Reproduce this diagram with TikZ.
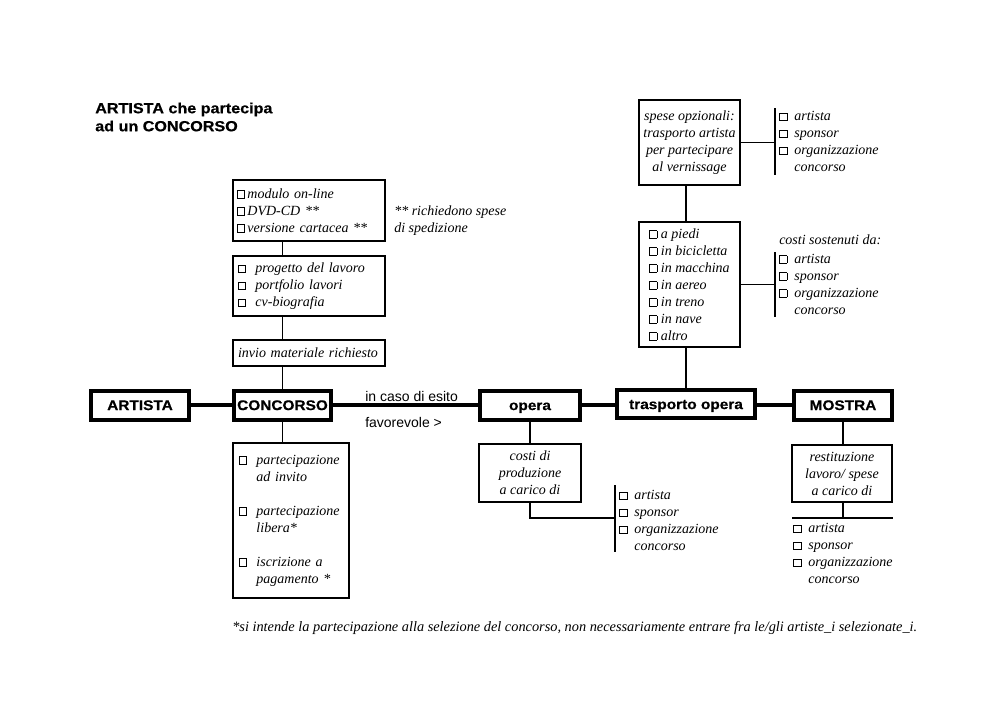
\documentclass[tikz,border=0pt]{standalone}
\usepackage{fontspec}
\newfontfamily\blk{Liberation Sans}[FakeStretch=1.1,FakeBold=0.5]
\newfontfamily\sns{Liberation Sans}
\newfontfamily\srf{Liberation Serif}
\newcommand\itf{\srf\itshape\fontsize{10.5}{12.75}\selectfont}
\newcommand\cbx{\raisebox{0.05ex}{\setlength\fboxsep{0pt}\setlength\fboxrule{0.55pt}\fbox{\rule{0pt}{5pt}\hspace{5pt}}}}
\newcommand\cbsp{\hphantom{\cbx\ \ }}
\tikzset{
  mainbox/.style={draw, line width=3pt, inner sep=0pt, text height=7.6pt, text depth=0pt, font=\blk\bfseries\fontsize{10.5}{12}\selectfont},
  thinbox/.style={draw, line width=1.1pt, inner ysep=0pt, font=\itf},
  listtxt/.style={inner sep=0pt, align=left, font=\itf, anchor=west},
  mainline/.style={line width=3pt},
  link/.style={line width=1.1pt},
}
\begin{document}
\begin{tikzpicture}[x=0.75pt,y=-0.75pt]
\useasboundingbox (0,0) rectangle (1000,708);
\fill[white] (0,0) rectangle (1000,708);

% title
\node[anchor=west, align=left, inner sep=0pt, font=\blk\bfseries\fontsize{11}{13.5}\selectfont] (title) at (95,117) {ARTISTA che partecipa\\ad un CONCORSO};

% main row
\node[mainbox, minimum width=73.5pt, minimum height=21.75pt] (A) at (140,405) {ARTISTA};
\node[mainbox, minimum width=72.75pt, minimum height=21.75pt] (C) at (282.5,405) {CONCORSO};
\node[mainbox, minimum width=75pt, minimum height=21.75pt] (O) at (530,405) {opera};
\node[mainbox, minimum width=103.5pt, minimum height=21pt] (T) at (686,404) {trasporto opera};
\node[mainbox, minimum width=73.5pt, minimum height=21.75pt] (M) at (843,405) {MOSTRA};

\node[anchor=west, inner sep=0pt, font=\sns\fontsize{10.5}{12}\selectfont] (esito) at (365,396) {in caso di esito};
\node[anchor=west, inner sep=0pt, font=\sns\fontsize{10.5}{12}\selectfont] (fav) at (365,422) {favorevole >};

% boxes above CONCORSO
\node[thinbox, text width=108pt, inner xsep=3pt, minimum height=45.75pt, align=left] (B1) at (309,210.5)
  {\mbox{\cbx\,modulo on-line}\\ \mbox{\cbx\,DVD-CD **}\\ \mbox{\cbx\,versione cartacea **}};
\node[listtxt] (nota) at (394,221) {** richiedono spese\\di spedizione};
\node[thinbox, text width=106.5pt, inner xsep=3.75pt, minimum height=45pt, align=left] (B2) at (309,286)
  {\mbox{\cbx\ \ progetto del lavoro}\\ \mbox{\cbx\ \ portfolio lavori}\\ \mbox{\cbx\ \ cv-biografia}};
\node[thinbox, text width=106.5pt, inner xsep=3.75pt, minimum height=19.5pt, align=left] (B3) at (309,353)
  {\mbox{invio materiale richiesto}};

% box below CONCORSO
\node[thinbox, text width=78pt, inner xsep=4.5pt, minimum height=116.25pt, align=left] (P) at (291,520.5)
  {\mbox{\cbx\ \ partecipazione}\\ \mbox{\cbsp ad invito}\\ \mbox{}\\ \mbox{\cbx\ \ partecipazione}\\ \mbox{\cbsp libera*}\\ \mbox{}\\ \mbox{\cbx\ \ iscrizione a}\\ \mbox{\cbsp pagamento *}};

% spese opzionali
\node[thinbox, minimum width=75.75pt, inner xsep=0pt, minimum height=63.75pt, align=center] (S) at (689.5,142.5)
  {spese opzionali:\\trasporto artista\\per partecipare\\al vernissage};
\coordinate (b1t) at (775,108);
\coordinate (b1b) at (775,175);
\node[listtxt] (L1) at (779,141.5) {\cbx\ \ artista\\ \cbx\ \ sponsor\\ \cbx\ \ organizzazione\\ \cbsp concorso};

% trasporto
\node[thinbox, minimum width=75.75pt, inner xsep=0pt, minimum height=93.75pt, align=left] (TB) at (689.5,284.5)
  {\cbx\ a piedi\\ \cbx\ in bicicletta\\ \cbx\ in macchina\\ \cbx\ in aereo\\ \cbx\ in treno\\ \cbx\ in nave\\ \cbx\ altro};
\node[listtxt] (cs) at (779,240) {costi sostenuti da:};
\coordinate (b2t) at (775,252);
\coordinate (b2b) at (775,317);
\node[listtxt] (L2) at (779,284) {\cbx\ \ artista\\ \cbx\ \ sponsor\\ \cbx\ \ organizzazione\\ \cbsp concorso};

% costi di produzione
\node[thinbox, minimum width=76.5pt, inner xsep=0pt, minimum height=43.5pt, align=center] (K) at (530,473)
  {costi di\\produzione\\a carico di};
\coordinate (b3t) at (615,485);
\coordinate (b3b) at (615,552);
\coordinate (b3m) at (615,518);
\node[listtxt] (L3) at (619,520.5) {\cbx\ \ artista\\ \cbx\ \ sponsor\\ \cbx\ \ organizzazione\\ \cbsp concorso};

% restituzione
\node[thinbox, minimum width=75pt, inner xsep=0pt, minimum height=42.75pt, align=center] (R) at (842,473.5)
  {restituzione\\lavoro/ spese\\a carico di};
\coordinate (hl) at (792,518);
\coordinate (hr) at (893,518);
\node[listtxt] (L4) at (793,553.5) {\cbx\ \ artista\\ \cbx\ \ sponsor\\ \cbx\ \ organizzazione\\ \cbsp concorso};

% footnote
\node[listtxt, font=\srf\itshape\fontsize{10.75}{12}\selectfont] (fn) at (232,628) {*si intende la partecipazione alla selezione del concorso, non necessariamente entrare fra le/gli artiste\_i selezionate\_i.};

% connectors
\draw[mainline] (A.east) -- (C.west);
\draw[mainline] (C.east) -- (O.west);
\draw[mainline] (O.east) -- (T.west |- O.east);
\draw[mainline] (T.east |- M.west) -- (M.west);

\draw[link] (B1.south -| C) -- (B2.north -| C);
\draw[link] (B2.south -| C) -- (B3.north -| C);
\draw[link] (B3.south -| C) -- (C.north);
\draw[link] (C.south) -- (P.north -| C);

\draw[link] (S.south -| T) -- (TB.north -| T);
\draw[link] (TB.south -| T) -- (T.north);
\draw[link] (b1t) -- (b1b);
\draw[link] (S.east) -- (S.east -| b1t);
\draw[link] (b2t) -- (b2b);
\draw[link] (TB.east) -- (TB.east -| b2t);

\draw[link] (O.south) -- (K.north -| O);
\draw[link] (b3t) -- (b3b);
\draw[link] (K.south -| O) |- (b3m);

\draw[link] (M.south) -- (R.north -| M);
\draw[link] (R.south -| M) -- (M |- hl);
\draw[link] (hl) -- (hr);
\end{tikzpicture}
\end{document}
